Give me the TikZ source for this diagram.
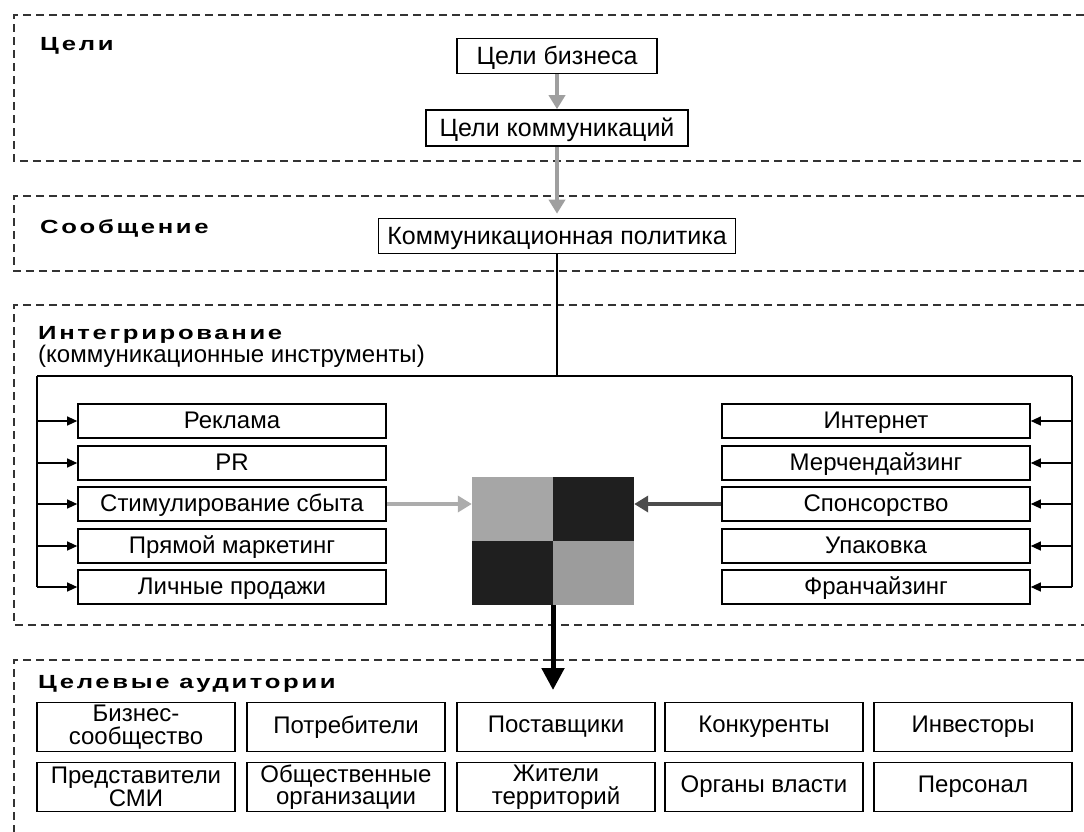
\documentclass[tikz,border=0pt]{standalone}
\usepackage{fontspec}
\setmainfont{Liberation Sans}
\newfontfamily\hdrfont[FakeStretch=1.35, LetterSpace=14]{Liberation Sans}
\usetikzlibrary{arrows.meta}

\tikzset{
  frame/.style={draw=black!80, line width=1.6pt, dash pattern=on 8pt off 5pt},
  goalbox/.style={draw, line width=1.6pt, inner sep=0pt, text height=19pt, text depth=3pt, font=\fontsize{25}{27}\selectfont},
  toolbox/.style={draw, line width=1.6pt, minimum width=308pt, minimum height=34pt, inner sep=0pt, text height=18pt, text depth=3pt, font=\fontsize{24}{26}\selectfont},
  audbox/.style={draw, line width=1.6pt, minimum width=198pt, minimum height=49pt, inner sep=0pt, align=center, font=\fontsize{24}{22.5}\selectfont},
  hdr/.style={anchor=west, inner sep=0pt, font=\hdrfont\bfseries\fontsize{19}{22}\selectfont},
  tip/.style={-{Triangle[length=10pt,width=9pt]}, line width=1.2pt},
  grayarr/.style={-{Triangle[length=14pt,width=16pt]}, line width=4pt, draw=gray!75},
}

\begin{document}
\begin{tikzpicture}[x=1pt,y=-1pt]
	\useasboundingbox (0,0) rectangle (1084,831);
	% goals
	\draw[frame] (1084,15) -- (14,15) -- (14,161) -- (1084,161);
	\node[hdr] (hgoal) at (40,46) {Цели};
	\node[goalbox, minimum width=200pt, minimum height=35pt] (biz) at (557,56) {Цели бизнеса};
	\node[goalbox, minimum width=262pt, minimum height=36pt] (comm) at (557,128) {Цели коммуникаций};
	% message
	\draw[frame] (1084,196) -- (14,196) -- (14,271) -- (1084,271);
	\node[hdr] (hmsg) at (40,228) {Сообщение};
	\node[goalbox, minimum width=357pt, minimum height=35pt] (policy) at (557,236) {Коммуникационная политика};
	\draw[grayarr] (biz) -- (comm);
	\draw[grayarr, shorten >=4pt] (comm) -- (policy);
	% integration
	\draw[frame] (1084,305) -- (14,305) -- (14,625) -- (1084,625);
	\node[hdr] (hint) at (38,335) {Интегрирование};
	\node[anchor=west, inner sep=0pt, font=\fontsize{24}{26}\selectfont] (hsub) at (38,356) {(коммуникационные инструменты)};
	\coordinate (busL) at (37,376);
	\coordinate (busR) at (1072,376);
	\draw[line width=1.2pt] (policy) -- (policy |- busL);
	\draw[line width=1.2pt] (busL) -- (busR);

	\node[toolbox] (adv) at (232,421) {Реклама};
	\node[toolbox] (pr) at (232,463) {PR};
	\node[toolbox] (promo) at (232,504) {Стимулирование сбыта};
	\node[toolbox] (direct) at (232,546) {Прямой маркетинг};
	\node[toolbox] (sale) at (232,587) {Личные продажи};

	\node[toolbox] (web) at (876,421) {Интернет};
	\node[toolbox] (merch) at (876,463) {Мерчендайзинг};
	\node[toolbox] (spons) at (876,504) {Спонсорство};
	\node[toolbox] (pack) at (876,546) {Упаковка};
	\node[toolbox] (fran) at (876,587) {Франчайзинг};

	\draw[line width=1.2pt] (busL) -- (busL |- sale);
	\draw[line width=1.2pt] (busR) -- (busR |- fran);
	\foreach \n in {adv,pr,promo,direct,sale}
		\draw[tip] (busL |- \n) -- (\n.west);
	\foreach \n in {web,merch,spons,pack,fran}
		\draw[tip] (busR |- \n) -- (\n.east);

	\node[minimum width=162pt, minimum height=128pt, inner sep=0pt] (mix) at (553,541) {};
	\fill[gray!70] (mix.north west) rectangle (mix.center);
	\fill[black!88] (mix.north east) rectangle (mix.center);
	\fill[black!88] (mix.south west) rectangle (mix.center);
	\fill[gray!78] (mix.south east) rectangle (mix.center);
	\draw[grayarr, draw=gray!65] (promo) -- (promo -| mix.west);
	\draw[grayarr, draw=black!70] (spons) -- (spons -| mix.east);

	% audiences
	\draw[frame] (1084,660) -- (14,660) -- (14,840);
	\node[hdr] (haud) at (38,684) {Целевые аудитории};
	\coordinate (audtop) at (553,690);
	\draw[-{Triangle[length=22pt,width=22pt]}, line width=5pt] (mix) -- (audtop);

	\node[audbox] (a1) at (136,727) {Бизнес-\\сообщество};
	\node[audbox] (a2) at (346,727) {Потребители};
	\node[audbox] (a3) at (556,727) {Поставщики};
	\node[audbox] (a4) at (764,727) {Конкуренты};
	\node[audbox] (a5) at (973,727) {Инвесторы};
	\node[audbox] (a6) at (136,787) {Представители\\СМИ};
	\node[audbox] (a7) at (346,787) {Общественные\\организации};
	\node[audbox] (a8) at (556,787) {Жители\\территорий};
	\node[audbox] (a9) at (764,787) {Органы власти};
	\node[audbox] (a10) at (973,787) {Персонал};
\end{tikzpicture}
\end{document}
